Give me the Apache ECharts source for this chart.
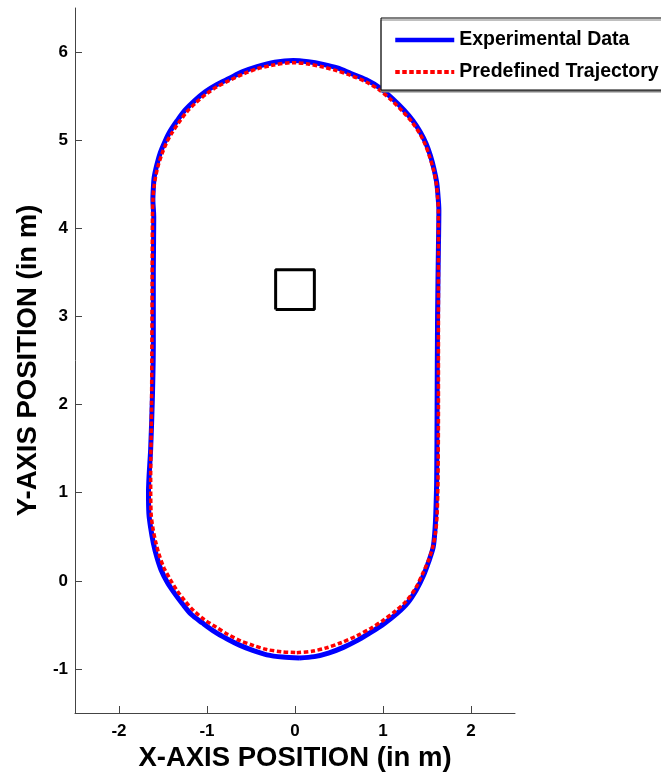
<!DOCTYPE html>
<html>
<head>
<meta charset="utf-8">
<script src="https://cdn.jsdelivr.net/npm/echarts@6/dist/echarts.min.js"></script>
<style>
  html, body { margin: 0; padding: 0; background: #fff; }
  #chart { width: 661px; height: 776px; }
</style>
</head>
<body>
<div id="chart"></div>
<script>
// tick labels
const xTicks = [-2, -1, 0, 1, 2];
const yTicks = [-1, 0, 1, 2, 3, 4, 5, 6];

const experimental = [
  [0.05, -0.875], [0.22, -0.86], [0.38, -0.82], [0.55, -0.755], [0.72, -0.67],
  [0.87, -0.58], [1.02, -0.48], [1.16, -0.37], [1.28, -0.25], [1.38, -0.10],
  [1.46, 0.06], [1.52, 0.22], [1.57, 0.38], [1.59, 0.57], [1.60, 0.76],
  [1.61, 1.14], [1.615, 2.0], [1.62, 3.0], [1.63, 3.8], [1.635, 4.20],
  [1.625, 4.37], [1.61, 4.52], [1.58, 4.67], [1.54, 4.82], [1.49, 4.96],
  [1.425, 5.09], [1.34, 5.22], [1.24, 5.34], [1.11, 5.47], [0.97, 5.59],
  [0.81, 5.685], [0.63, 5.76], [0.48, 5.82], [0.32, 5.86], [0.15, 5.89],
  [-0.02, 5.905], [-0.23, 5.885], [-0.43, 5.835], [-0.60, 5.775], [-0.75, 5.70],
  [-0.89, 5.63], [-1.02, 5.55], [-1.14, 5.45], [-1.25, 5.34], [-1.34, 5.22],
  [-1.42, 5.10], [-1.48, 4.98], [-1.53, 4.86], [-1.57, 4.72], [-1.60, 4.58],
  [-1.61, 4.45], [-1.615, 4.32], [-1.605, 4.13], [-1.61, 3.5], [-1.61, 2.7],
  [-1.62, 2.1], [-1.64, 1.5], [-1.665, 1.0], [-1.66, 0.76], [-1.64, 0.60],
  [-1.61, 0.43], [-1.57, 0.27], [-1.52, 0.12], [-1.45, -0.02], [-1.37, -0.14],
  [-1.28, -0.26], [-1.18, -0.38], [-1.05, -0.48], [-0.91, -0.58], [-0.77, -0.66],
  [-0.63, -0.73], [-0.48, -0.79], [-0.32, -0.84], [-0.14, -0.865], [0.05, -0.875]
];

// reference trajectory
const predefined = [
  [0.02, -0.815], [0.19, -0.80], [0.36, -0.76], [0.53, -0.70], [0.70, -0.625],
  [0.86, -0.54], [1.0, -0.45], [1.14, -0.345], [1.265, -0.23], [1.37, -0.085],
  [1.45, 0.08], [1.515, 0.23], [1.565, 0.38], [1.60, 0.57], [1.615, 0.76],
  [1.625, 1.14], [1.63, 2.0], [1.63, 3.0], [1.63, 4.20], [1.62, 4.36],
  [1.605, 4.51], [1.575, 4.66], [1.53, 4.81], [1.48, 4.95], [1.415, 5.08],
  [1.33, 5.205], [1.23, 5.32], [1.10, 5.45], [0.96, 5.57], [0.80, 5.665],
  [0.62, 5.74], [0.47, 5.79], [0.32, 5.83], [0.15, 5.865], [-0.02, 5.88],
  [-0.26, 5.85], [-0.43, 5.81], [-0.59, 5.75], [-0.74, 5.68], [-0.88, 5.61],
  [-1.0, 5.53], [-1.12, 5.43], [-1.23, 5.32], [-1.32, 5.20], [-1.40, 5.08],
  [-1.46, 4.97], [-1.51, 4.85], [-1.555, 4.71], [-1.585, 4.58], [-1.605, 4.45],
  [-1.615, 4.32], [-1.62, 4.13], [-1.625, 3.0], [-1.63, 2.0], [-1.64, 1.14],
  [-1.635, 0.76], [-1.615, 0.60], [-1.585, 0.45], [-1.545, 0.30], [-1.49, 0.15],
  [-1.42, 0.02], [-1.34, -0.11], [-1.25, -0.23], [-1.15, -0.34], [-1.03, -0.44],
  [-0.89, -0.53], [-0.76, -0.61], [-0.62, -0.68], [-0.47, -0.735], [-0.32, -0.78],
  [-0.15, -0.805], [0.02, -0.815]
];

// obstacle square
const obstacle = [[-0.22, 3.08], [0.22, 3.08], [0.22, 3.53], [-0.22, 3.53], [-0.22, 3.08]];

const font = 'Liberation Sans, Arial, sans-serif';
const chart = echarts.init(document.getElementById('chart'), null, { renderer: 'canvas' });

const axisCommon = {
  type: 'value',
  splitLine: { show: false },
  axisLine: { show: true, onZero: false, lineStyle: { color: '#444', width: 1 } },
  axisTick: { show: true, inside: true, length: 7, lineStyle: { color: '#444' } },
  nameLocation: 'middle',
  nameTextStyle: { color: '#000', fontFamily: font, fontWeight: 'bold', fontSize: 27.5 }
};
const tickFont = { color: '#000', fontFamily: font, fontWeight: 'bold', fontSize: 17 };

chart.setOption({
  animation: false,
  backgroundColor: '#fff',
  grid: { left: 75, right: 146, top: 8, bottom: 63, outerBoundsMode: 'none' },
  legend: {
    data: [
      { name: 'Experimental Data', lineStyle: { width: 4.5 } },
      { name: 'Predefined Trajectory', lineStyle: { width: 4 } }
    ],
    orient: 'vertical',
    left: 381,
    top: 18,
    padding: [12, 40, 8, 12],
    itemWidth: 59,
    itemHeight: 14,
    itemGap: 12,
    itemStyle: { opacity: 0 },
    borderColor: '#000',
    borderWidth: 1,
    backgroundColor: '#fff',
    shadowColor: '#808080',
    shadowOffsetY: 2,
    shadowBlur: 0,
    textStyle: { color: '#000', fontFamily: font, fontWeight: 'bold', fontSize: 19.5 }
  },
  xAxis: Object.assign({}, axisCommon, {
    min: -2.5, max: 2.5,
    name: 'X-AXIS POSITION (in m)',
    nameGap: 30,
    axisTick: Object.assign({}, axisCommon.axisTick, { customValues: xTicks }),
    axisLabel: Object.assign({ customValues: xTicks, margin: 10 }, tickFont)
  }),
  yAxis: Object.assign({}, axisCommon, {
    min: -1.5, max: 6.5,
    name: 'Y-AXIS POSITION (in m)',
    nameGap: 32,
    axisTick: Object.assign({}, axisCommon.axisTick, { customValues: yTicks }),
    axisLabel: Object.assign({ customValues: yTicks, margin: 7 }, tickFont)
  }),
  series: [
    {
      name: 'Obstacle',
      type: 'line',
      data: obstacle,
      symbol: 'none',
      lineStyle: { color: '#000', width: 3 },
      silent: true
    },
    {
      name: 'Experimental Data',
      type: 'line',
      data: experimental,
      symbol: 'none',
      smooth: 0.3,
      color: '#0000ff',
      lineStyle: { color: '#0000ff', width: 5 }
    },
    {
      name: 'Predefined Trajectory',
      type: 'line',
      data: predefined,
      symbol: 'none',
      smooth: 0.3,
      color: '#ff0000',
      lineStyle: { color: '#ff0000', width: 3.5, type: [4.5, 2.5] }
    }
  ]
});
</script>
</body>
</html>
